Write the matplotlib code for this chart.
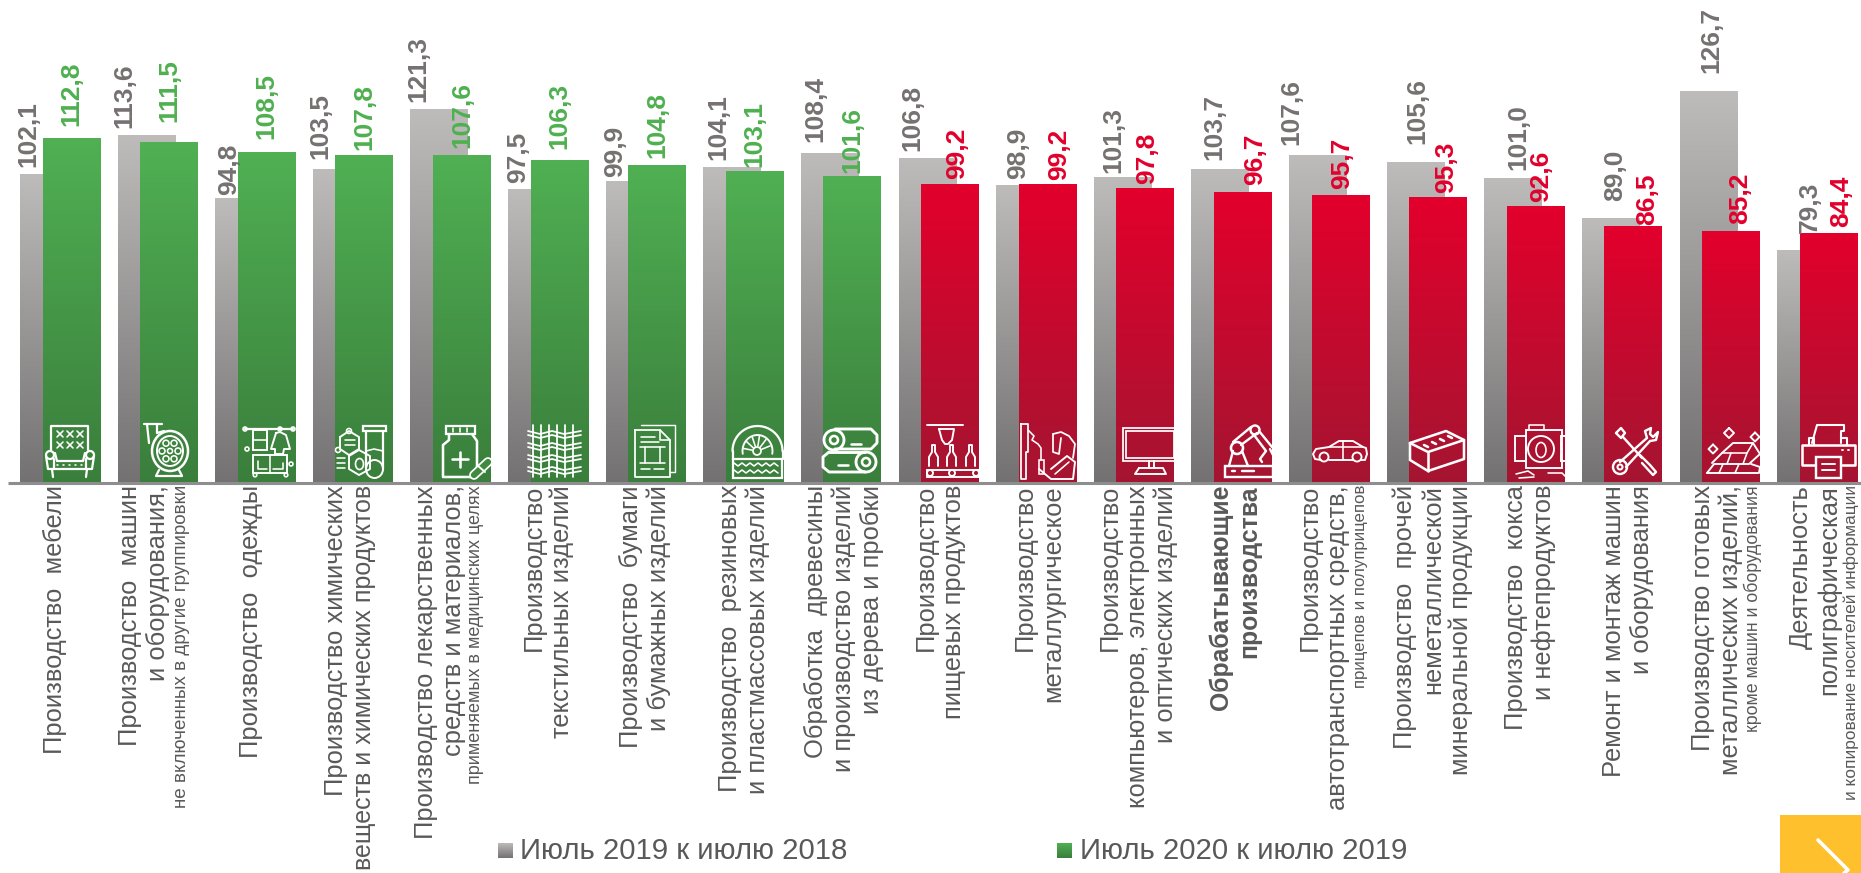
import numpy as np
import matplotlib
matplotlib.use('Agg')
import matplotlib.pyplot as plt
from matplotlib.colors import LinearSegmentedColormap
from matplotlib.patches import Circle, Rectangle, Ellipse

plt.rcParams['font.family'] = ['Liberation Sans', 'DejaVu Sans']

# данные
labels = [
    ['Производство  мебели'],
    ['Производство  машин', 'и оборудования,'],
    ['Производство  одежды'],
    ['Производство химических', 'веществ и химических продуктов'],
    ['Производство лекарственных', 'средств и материалов,'],
    ['Производство', 'текстильных изделий'],
    ['Производство  бумаги', 'и бумажных изделий'],
    ['Производство  резиновых', 'и пластмассовых изделий'],
    ['Обработка  древесины', 'и производство изделий', 'из дерева и пробки'],
    ['Производство', 'пищевых продуктов'],
    ['Производство', 'металлургическое'],
    ['Производство', 'компьютеров, электронных', 'и оптических изделий'],
    ['Обрабатывающие', 'производства'],
    ['Производство', 'автотранспортных средств,'],
    ['Производство  прочей', 'неметаллической', 'минеральной продукции'],
    ['Производство  кокса', 'и нефтепродуктов'],
    ['Ремонт и монтаж машин', 'и оборудования'],
    ['Производство готовых', 'металлических изделий,'],
    ['Деятельность', 'полиграфическая'],
]
notes = ['', 'не включенных в другие группировки', '', '',
         'применяемых в медицинских целях', '', '', '', '', '', '', '', '',
         'прицепов и полуприцепов', '', '', '',
         'кроме машин и оборудования',
         'и копирование носителей информации']
july_2019 = [102.1, 113.6, 94.8, 103.5, 121.3, 97.5, 99.9, 104.1, 108.4, 106.8,
             98.9, 101.3, 103.7, 107.6, 105.6, 101.0, 89.0, 126.7, 79.3]
july_2020 = [112.8, 111.5, 108.5, 107.8, 107.6, 106.3, 104.8, 103.1, 101.6, 99.2,
             99.2, 97.8, 96.7, 95.7, 95.3, 92.6, 86.5, 85.2, 84.4]
legend_names = ['Июль 2019 к июлю 2018', 'Июль 2020 к июлю 2019']

# положение подписей (пиксели)
first_line_x = [55, 130, 251, 336, 426, 534, 631, 730, 816, 926,
                1025, 1110, 1221, 1310, 1405, 1516, 1614, 1703, 1801]
note_x = {1: 181, 4: 476, 13: 1361, 17: 1753, 18: 1851}
note_size = {1: 13.6, 4: 13.0, 13: 12.2, 17: 12.8, 18: 12.4}
gray_gap = [7, 7, 3, 10, 7, 6, 4, 7, 11, 7, 6, 4, 9, 10, 18, 8, 17, 18, 17]
gray_dx = [-21, -22, -15, -21, -21, -19, -20, -14, -15, -15, -7, -9, -6, -27, 2, 5, 4, 3, 4]
color_gap = [12, 20, 13, 5, 7, 11, 7, 4, 3, 5, 4, 4, 7, 6, 4, 4, 1, 7, 6]
color_dx = [0, 0, 0, 0, 0, 0, 0, 0, 0, 7, 11, 2, 12, 2, 8, 5, 14, 9, 12]

W, H = 1861, 873
BASE_Y = 483
PX_PER_UNIT = 3.356
PERIOD = 97.62
BAR_W = 58
GRAY_LEFT = 20
COLOR_LEFT = 42.5

TEXT = '#595959'
GRAY_VAL = '#767171'
GREEN_VAL = '#4fb050'
RED_VAL = '#e2002c'

cm_gray = LinearSegmentedColormap.from_list('g', ['#bdbcbb', '#737171'])
cm_green = LinearSegmentedColormap.from_list('gr', ['#50b053', '#3a7e3c'])
cm_red = LinearSegmentedColormap.from_list('r', ['#e3002c', '#a41531'])
grad = np.linspace(0, 1, 256).reshape(-1, 1)

fig = plt.figure(figsize=(W / 100, H / 100), dpi=100)
ax = fig.add_axes([0, 1 - BASE_Y / H, 1, BASE_Y / H])
ax.axis('off')
ov = fig.add_axes([0, 0, 1, 1], zorder=5)   # верхний слой в пикселях
ov.axis('off')
ov.patch.set_alpha(0)
ov.set_xlim(0, W)
ov.set_ylim(H, 0)


def grad_bars(xs, vals, cmap, z):
    bars = ax.bar(xs, vals, width=BAR_W, align='edge', color='none', linewidth=0, zorder=z)
    for b, v in zip(bars, vals):
        im = ax.imshow(grad, cmap=cmap, aspect='auto', zorder=z, vmin=0, vmax=1,
                       extent=(b.get_x(), b.get_x() + BAR_W, 10, v))
        im.set_clip_path(b)
    return bars


n = len(labels)
x_gray = [GRAY_LEFT + i * PERIOD for i in range(n)]
x_col = [COLOR_LEFT + i * PERIOD for i in range(n)]
grad_bars(x_gray, july_2019, cm_gray, 1)
for i in range(n):
    cm = cm_green if july_2020[i] > 100 else cm_red
    grad_bars([x_col[i]], [july_2020[i]], cm, 2)

ax.set_xlim(0, W)
ax.set_ylim(10, 10 + BASE_Y / PX_PER_UNIT)

# подписи значений
for i in range(n):
    ax.annotate(f'{july_2019[i]:.1f}'.replace('.', ','),
                (x_gray[i] + BAR_W / 2, july_2019[i]),
                xytext=(gray_dx[i], gray_gap[i]), textcoords='offset pixels',
                rotation=90, ha='center', va='bottom', fontsize=19, fontweight='bold',
                color=GRAY_VAL, zorder=3, annotation_clip=False)
    col = GREEN_VAL if july_2020[i] > 100 else RED_VAL
    ax.annotate(f'{july_2020[i]:.1f}'.replace('.', ','),
                (x_col[i] + BAR_W / 2, july_2020[i]),
                xytext=(color_dx[i], color_gap[i]), textcoords='offset pixels',
                rotation=90, ha='center', va='bottom', fontsize=19, fontweight='bold',
                color=col, zorder=4, annotation_clip=False)

# базовая линия
ov.plot([8, W], [BASE_Y, BASE_Y], color='#8e8e8e', lw=2.2, solid_capstyle='butt')

# подписи категорий
LINE_STEP = 28
for i, lines in enumerate(labels):
    bold = lines[0] == 'Обрабатывающие'
    for j, s in enumerate(lines):
        size = 17.8 if bold else 18.4
        if s.startswith('веществ'):
            size = 18.0
        ov.text(first_line_x[i] + j * LINE_STEP, 485, s, rotation=90, ha='center', va='top',
                fontsize=size, color=TEXT, fontweight='bold' if bold else 'normal')
    if notes[i]:
        ov.text(note_x[i], 485, notes[i], rotation=90, ha='center', va='top',
                fontsize=note_size[i], color=TEXT)

# легенда
for xs, cm, tx, name in [(498, cm_gray, 520, legend_names[0]), (1057, cm_green, 1080, legend_names[1])]:
    ov.imshow(grad, cmap=cm, aspect='auto', extent=(xs, xs + 15, 858, 843), origin='upper')
    ov.text(tx, 851, name, ha='left', va='center', fontsize=21.2, color=TEXT)

# жёлтый уголок
ov.add_patch(Rectangle((1780, 815), 81, 58, color='#fec02d', lw=0))
ov.plot([1818, 1848, 1844], [840, 870, 873], color='white', lw=2.6, solid_capstyle='round')
ov.set_xlim(0, W)
ov.set_ylim(H, 0)


# --- значки ---
def pen(ox, oy):
    def line(*pts, lw=1.4):
        a = np.array(pts, dtype=float)
        ov.plot(a[:, 0] + ox, a[:, 1] + oy, color='white', lw=lw * 1.15,
                solid_capstyle='round', solid_joinstyle='round')

    def circ(x, y, r, lw=1.4):
        ov.add_patch(Circle((x + ox, y + oy), r, fill=False, ec='white', lw=lw * 1.15))

    def box(x, y, w, h, lw=1.4):
        ov.add_patch(Rectangle((x + ox, y + oy), w, h, fill=False, ec='white', lw=lw * 1.15))
    return line, circ, box


def armchair(ox, oy):
    line, circ, box = pen(ox, oy)
    line((6, 25), (6, 1), (43, 1), (43, 25))
    circ(5, 30, 4)
    circ(45, 30, 4)
    line((1, 31), (3, 44), (47, 44), (49, 31))
    line((10, 28), (12, 36), (38, 36), (40, 28))
    line((9, 34), (9, 44))
    line((41, 34), (41, 44))
    line((7, 44), (8, 52))
    line((42, 44), (41, 52))
    for yy in (9, 20):
        for xx in (12, 22, 32):
            line((xx, yy - 3), (xx + 6, yy + 3), lw=1)
            line((xx, yy + 3), (xx + 6, yy - 3), lw=1)
    for xx in range(12, 42, 6):
        line((xx, 40), (xx + 1, 40), lw=1)


def pump(ox, oy):
    line, circ, box = pen(ox, oy)
    line((0, 1), (18, 1))
    line((3, 1), (5, 20))
    line((13, 1), (13, 10), (20, 8))
    ov.add_patch(Ellipse((26 + ox, 28 + oy), 36, 40, fill=False, ec='white', lw=1.8))
    ov.add_patch(Ellipse((26 + ox, 28 + oy), 26, 30, fill=False, ec='white', lw=1.4))
    circ(26, 28, 2.5, lw=1)
    for a in np.radians(range(0, 360, 60)):
        circ(26 + 8 * np.cos(a), 28 + 9 * np.sin(a), 3, lw=1)
    line((15, 47), (12, 53), (38, 53), (35, 47))


def clothes(ox, oy):
    line, circ, box = pen(ox, oy)
    line((2, 4), (50, 4))
    circ(2, 4, 2, lw=1)
    circ(37, 4, 2, lw=1)
    circ(50, 4, 2, lw=1)
    box(10, 5, 14, 20, lw=1.2)
    line((10, 15), (24, 15), lw=1)
    line((33, 8), (37, 7), (43, 10), (47, 24), (41, 24), (40, 29), (32, 29), (32, 24), (28, 24), (33, 8), lw=1.2)
    box(10, 30, 34, 18, lw=1.2)
    line((27, 30), (27, 48), lw=1)
    line((15, 36), (15, 44), (24, 44), lw=1)
    line((30, 44), (40, 44), (40, 38), lw=1)
    circ(12, 50, 1.8, lw=1)
    circ(43, 50, 1.8, lw=1)
    circ(4, 24, 2, lw=1)
    circ(48, 39, 2, lw=1)


def chem(ox, oy):
    line, circ, box = pen(ox, oy)
    box(28, 1, 23, 5)
    line((31, 6), (31, 43))
    line((48, 6), (48, 44))
    ov.add_patch(Ellipse((39.5 + ox, 44 + oy), 17, 18, fill=False, ec='white', lw=1.4))
    line((31, 26), (39, 24), (48, 26), lw=1)
    line((5, 12), (14, 6), (24, 12), (24, 24), (14, 30), (5, 24), (5, 12), lw=1.2)
    circ(14, 6, 2.5, lw=1)
    line((10, 15), (20, 15), lw=1)
    line((10, 20), (20, 20), lw=1)
    line((14, 31), (24, 25), (35, 31), (35, 44), (24, 50), (14, 44), (14, 31), lw=1.2)
    ov.add_patch(Ellipse((24.5 + ox, 39 + oy), 8, 11, fill=False, ec='white', lw=1.2))
    circ(3, 25, 2.5, lw=1)
    line((2, 33), (10, 33), lw=1)
    line((2, 38), (10, 38), lw=1)
    line((2, 43), (10, 43), lw=1)


def pill(ox, oy):
    line, circ, box = pen(ox, oy)
    box(3, 1, 29, 8)
    for xx in (10, 17, 24):
        line((xx, 3), (xx, 7), lw=1)
    line((6, 9), (6, 15), (0, 20), (0, 52), (34, 52), (34, 16), (29, 9), lw=1.6)
    line((17, 27), (17, 42), lw=1.6)
    line((9, 34), (25, 34), lw=1.6)
    ov.plot(np.array([31, 45]) + ox, np.array([50, 37]) + oy, color='white', lw=7, solid_capstyle='round')
    ov.plot(np.array([31, 45]) + ox, np.array([50, 37]) + oy, color='#3f8a41', lw=4.5, solid_capstyle='round')
    line((34, 40), (42, 47), lw=1.2)


def fabric(ox, oy):
    line, circ, box = pen(ox, oy)
    for xx in (5, 13, 21, 29, 37, 45):
        line((xx, 0), (xx, 52), lw=1.1)
    for yy in (6, 18, 30, 42):
        line((0, yy), (12, yy + 3), (24, yy), (36, yy + 3), (53, yy), lw=1.1)
        line((0, yy + 4), (12, yy + 7), (24, yy + 4), (36, yy + 7), (53, yy + 4), lw=1.1)


def paper(ox, oy):
    line, circ, box = pen(ox, oy)
    line((6, 0), (40, 0), (40, 47), (35, 47), lw=0.9)
    line((0, 5), (25, 5), (35, 15), (35, 52), (0, 52), (0, 5), lw=1.1)
    line((25, 5), (25, 15), (35, 15), lw=1)
    line((6, 12), (20, 12), lw=1)
    line((6, 17), (24, 17), lw=1)
    line((5, 22), (30, 22), lw=1)
    line((10, 22), (10, 38), lw=1)
    line((25, 22), (25, 38), lw=1)
    line((5, 38), (30, 38), lw=1)
    line((6, 44), (15, 44), lw=1)
    line((19, 44), (29, 44), lw=1)


def tyre(ox, oy):
    line, circ, box = pen(ox, oy)
    t = np.radians(np.linspace(180, 360, 40))
    line(*zip(25.5 + 25 * np.cos(t), 25 + 25 * np.sin(t)))
    line((0.5, 25), (0.5, 33))
    line((50.5, 25), (50.5, 33))
    t = np.radians(np.linspace(170, 370, 30))
    line(*zip(25.5 + 15 * np.cos(t), 25 + 16 * np.sin(t)), lw=1.2)
    circ(25, 25, 4, lw=1.1)
    for a in np.radians(range(190, 360, 30)):
        line((25 + 5 * np.cos(a), 25 + 5 * np.sin(a)), (25 + 14 * np.cos(a), 25 + 15 * np.sin(a)), lw=1)
    box(1, 33, 49, 19, lw=1.4)
    for yy in (38, 45):
        zx = np.arange(2, 50, 4)
        zy = yy + np.where(np.arange(len(zx)) % 2, 2, -1)
        line(*zip(zx, zy), lw=1)


def logs(ox, oy):
    line, circ, box = pen(ox, oy)
    line((12, 0), (48, 0), (54, 6), (54, 14), (48, 20), (12, 20), lw=1.8)
    circ(11, 11, 10, lw=1.8)
    circ(11, 11, 4, lw=1.6)
    line((6, 23), (42, 23), lw=1.8)
    line((6, 23), (0, 28), (0, 38), (6, 43), (42, 43), lw=1.8)
    circ(43, 33, 10, lw=1.8)
    circ(43, 33, 4, lw=1.6)
    line((28, 15), (38, 15), lw=1.6)
    line((15, 36), (25, 36), lw=1.6)


def conveyor(ox, oy):
    line, circ, box = pen(ox, oy)
    line((0, 0), (36, 0), lw=1.2)
    line((12, 4), (27, 4), (25, 15), (21, 19), (18, 19), (15, 15), (12, 4), lw=1.2)
    for xx in (6, 24, 43):
        line((xx - 4, 41), (xx - 4, 32), (xx - 1, 27), (xx - 1, 20), (xx + 2, 20), (xx + 2, 27), (xx + 5, 32), (xx + 5, 41), lw=1.2)
    box(0, 45, 52, 7, lw=1.2)
    for xx in (3, 25, 49):
        circ(xx, 48, 3, lw=1.2)


def welder(ox, oy):
    line, circ, box = pen(ox, oy)
    line((0, 0), (0, 55), (5, 55), (5, 28), (7, 28), (7, 0), (0, 0), lw=1.1)
    line((7, 6), (13, 12), (11, 16), (17, 20), (20, 24), (20, 36), lw=1)
    box(18, 36, 5, 14, lw=1)
    line((32, 10), (40, 8), (48, 12), (54, 20), (52, 34), lw=1.1)
    line((32, 10), (32, 28), (38, 30), (40, 14), lw=1.1)
    line((18, 45), (30, 55), (52, 55), (54, 38), (46, 32), (30, 45), lw=1.2)
    line((34, 50), (48, 38), lw=1)


def monitor(ox, oy):
    line, circ, box = pen(ox, oy)
    box(0, 0, 54, 33, lw=1.1)
    box(3, 3, 48, 27, lw=1.1)
    line((26, 33), (26, 40), lw=1.2)
    line((31, 33), (31, 40), lw=1.2)
    line((16, 40), (40, 40), (43, 46), (12, 46), (16, 40), lw=1.2)


def robot(ox, oy):
    line, circ, box = pen(ox, oy)
    box(1, 41, 48, 11, lw=1.5)
    line((5, 41), (9, 26), lw=1.5)
    line((18, 26), (24, 41), lw=1.5)
    circ(13, 23, 6, lw=1.6)
    line((9, 17), (27, 2), lw=1.5)
    line((17, 20), (33, 8), lw=1.5)
    circ(31, 5, 4.5, lw=1.5)
    line((35, 6), (48, 22), lw=1.5)
    line((30, 10), (42, 26), lw=1.5)
    line((42, 26), (36, 34), (38, 37), lw=1.5)
    line((46, 24), (52, 36), lw=1.5)
    line((8, 46), (11, 46), lw=1.5)
    line((18, 46), (30, 46), lw=1.5)


def car(ox, oy):
    line, circ, box = pen(ox, oy)
    line((8, 20), (2, 19), (0, 14), (3, 9), (16, 7), (26, 1), (40, 1), (50, 7), (53, 8), (54, 14), (52, 20), (48, 20), lw=1.2)
    line((16, 20), (40, 20), lw=1.2)
    line((16, 7), (50, 7), lw=1)
    line((30, 1), (30, 20), lw=1)
    circ(11, 17, 4.5, lw=1.2)
    circ(44, 17, 4.5, lw=1.2)


def brick(ox, oy):
    line, circ, box = pen(ox, oy)
    line((0, 12), (36, 0), (54, 9), (54, 28), (18, 40), (0, 29), (0, 12), lw=1.6)
    line((0, 12), (18, 21), (54, 9), lw=1.6)
    line((18, 21), (18, 40), lw=1.6)
    for k in range(4):
        line((14 + 8 * k, 14 - 3 * k), (18 + 8 * k, 16 - 3 * k), lw=1.6)


def coke(ox, oy):
    line, circ, box = pen(ox, oy)
    box(12, 5, 36, 38, lw=1.2)
    line((15, 5), (15, 0), (30, 0), (30, 5), lw=1)
    box(1, 11, 11, 25, lw=1.2)
    box(47, 11, 12, 25, lw=1.2)
    circ(27, 24, 13, lw=1.2)
    ov.add_patch(Ellipse((27 + ox, 25 + oy), 10, 15, fill=False, ec='white', lw=1.2))
    line((2, 49), (14, 46), (20, 50), lw=1)
    line((5, 53), (20, 52), lw=1)
    line((34, 48), (48, 48), (52, 52), lw=1)


def tools(ox, oy):
    line, circ, box = pen(ox, oy)
    line((4, 5), (9, 0), (13, 5), (9, 10), (4, 5), lw=1.5)
    line((11, 9), (30, 30), lw=1.5)
    line((28, 27), (38, 37), (44, 44), (41, 47), (30, 35), lw=1.5)
    line((35, 10), (8, 34), lw=1.5)
    line((38, 13), (14, 39), lw=1.5)
    circ(8, 39, 7, lw=1.5)
    circ(8, 39, 2.5, lw=1.3)
    line((35, 10), (33, 3), (39, 0), (38, 6), (41, 9), (46, 4), (44, 12), (38, 13), lw=1.5)


def gold(ox, oy):
    line, circ, box = pen(ox, oy)
    line((0, 45), (7, 36), (42, 36), (53, 26), (46, 15), (26, 15), (15, 25), (5, 35), lw=1.2)
    line((0, 45), (52, 45), (53, 39), (44, 36), lw=1.2)
    line((16, 36), (12, 45), lw=1)
    line((32, 36), (28, 45), lw=1)
    line((15, 25), (40, 25), (46, 15), lw=1)
    line((24, 25), (20, 36), lw=1)
    line((40, 25), (36, 36), lw=1)
    for (xx, yy, r) in [(22, 5, 5), (6, 21, 4.5), (48, 9, 4.5)]:
        line((xx, yy - r), (xx + r, yy), (xx, yy + r), (xx - r, yy), (xx, yy - r), lw=1.2)


def printer(ox, oy):
    line, circ, box = pen(ox, oy)
    line((10, 18), (15, 0), (42, 0), (42, 6), (39, 6), (39, 18), lw=1.3)
    line((12, 20), (12, 13), (7, 13), (7, 20), lw=1.3)
    line((40, 13), (45, 13), (45, 20), lw=1.3)
    line((13, 40), (0, 40), (0, 20), (53, 20), (53, 40), (40, 40), lw=1.6)
    box(14, 32, 25, 21, lw=1.5)
    line((20, 39), (33, 39), lw=1.2)
    line((20, 45), (33, 45), lw=1.2)
    line((40, 25), (41, 25), lw=1.2)
    line((46, 25), (47, 25), lw=1.2)


icons = [armchair, pump, clothes, chem, pill, fabric, paper, tyre, logs, conveyor,
         welder, monitor, robot, car, brick, coke, tools, gold, printer]
icon_x = [45, 144, 243, 335, 443, 528, 635, 732, 823, 927,
          1021, 1123, 1224, 1313, 1410, 1514, 1612, 1707, 1802]
icon_y = [425, 423, 425, 425, 425, 425, 425, 426, 429, 425,
          424, 428, 425, 440, 431, 425, 428, 428, 425]
for fn, ix, iy in zip(icons, icon_x, icon_y):
    fn(ix, iy)

ov.set_xlim(0, W)
ov.set_ylim(H, 0)
fig.savefig('out.png', dpi=100)
